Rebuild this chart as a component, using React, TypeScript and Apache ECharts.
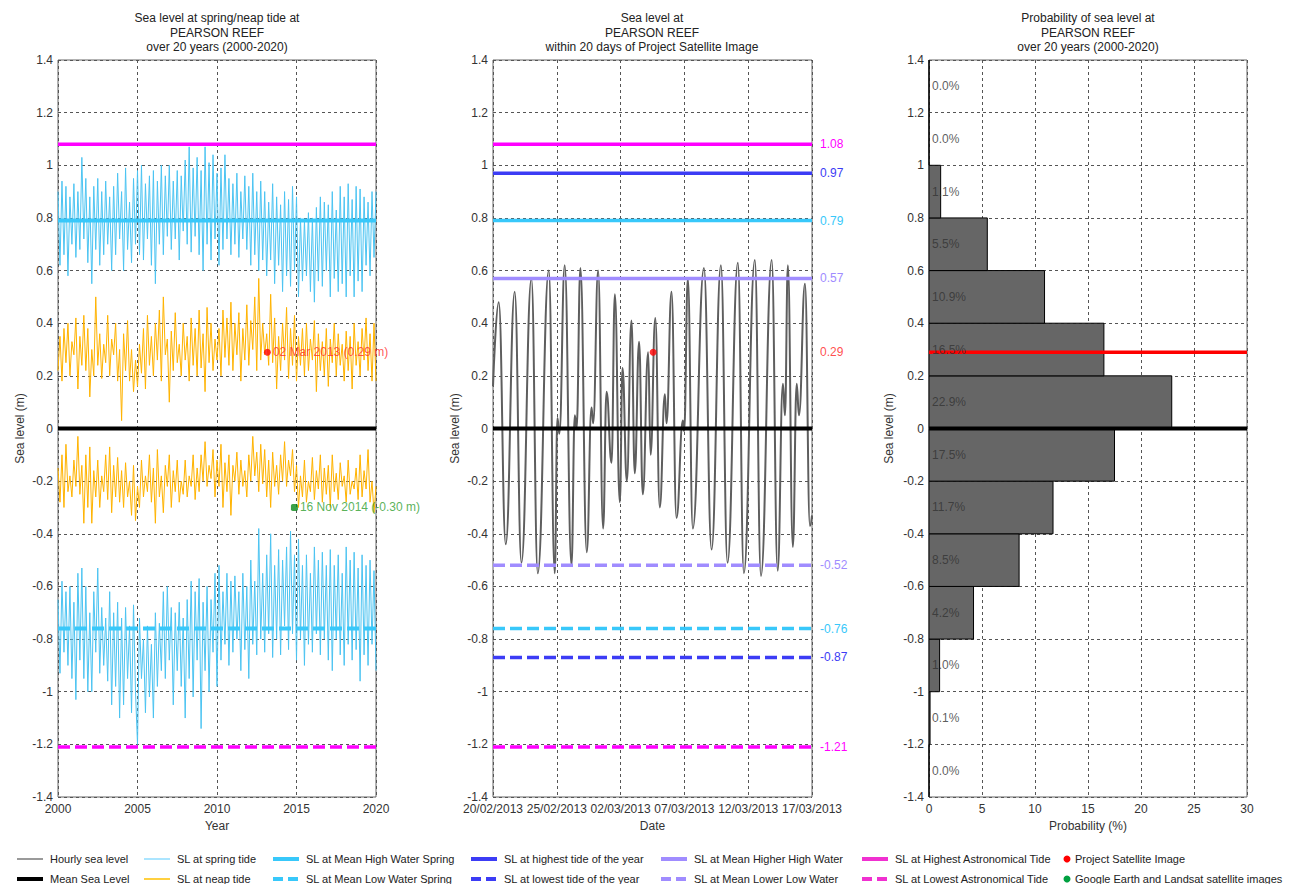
import React, { useEffect, useRef } from 'react';
import * as echarts from 'echarts';

const FONT = "'Liberation Sans', Arial, Helvetica, sans-serif";

// ---------- Left panel: spring / neap tide levels, 2000-2020 (8 samples per year) ----------
const YEAR_START = 2000;
const YEAR_STEP = 0.125;
const springHigh = [
  0.90, 0.62, 0.94, 0.66, 0.92, 0.58, 0.88, 0.70,
  0.93, 0.65, 0.90, 0.68, 1.03, 0.72, 0.95, 0.63,
  0.88, 0.55, 0.92, 0.68, 0.95, 0.62, 0.90, 0.66,
  0.94, 0.70, 0.88, 0.60, 0.92, 0.66, 0.97, 0.72,
  0.90, 0.60, 0.99, 0.68, 0.86, 0.63, 0.95, 0.70,
  0.98, 0.66, 1.00, 0.64, 0.93, 0.72, 0.96, 0.62,
  0.98, 0.55, 0.94, 0.70, 1.00, 0.66, 0.96, 0.73,
  1.00, 0.68, 0.94, 0.72, 0.98, 0.64, 0.96, 0.75,
  1.02, 0.70, 1.07, 0.67, 0.99, 0.73, 1.03, 0.66,
  0.98, 0.60, 1.07, 0.70, 1.01, 0.64, 1.04, 0.72,
  0.97, 0.62, 0.99, 0.68, 1.04, 0.72, 0.95, 0.66,
  0.93, 0.70, 0.97, 0.65, 0.90, 0.72, 0.96, 0.68,
  0.92, 0.62, 0.97, 0.66, 0.90, 0.60, 0.94, 0.64,
  0.90, 0.58, 0.86, 0.64, 0.93, 0.55, 0.88, 0.62,
  0.85, 0.52, 0.90, 0.58, 0.87, 0.54, 0.92, 0.60,
  0.88, 0.50, 0.80, 0.56, 0.79, 0.58, 0.82, 0.52,
  0.80, 0.48, 0.84, 0.56, 0.88, 0.54, 0.86, 0.60,
  0.85, 0.50, 0.90, 0.57, 0.83, 0.52, 0.92, 0.55,
  0.88, 0.50, 0.93, 0.58, 0.87, 0.50, 0.92, 0.56,
  0.91, 0.52, 0.88, 0.62, 0.86, 0.58, 0.90, 0.65,
  0.90,
];
const neapHigh = [
  0.22, 0.35, 0.18, 0.38, 0.25, 0.40, 0.20, 0.33,
  0.28, 0.42, 0.15, 0.35, 0.24, 0.43, 0.22, 0.38,
  0.12, 0.30, 0.20, 0.50, 0.24, 0.36, 0.19, 0.32,
  0.25, 0.43, 0.20, 0.34, 0.28, 0.40, 0.18, 0.30,
  0.03, 0.36, 0.22, 0.41, 0.18, 0.30, 0.14, 0.26,
  0.16, 0.32, 0.21, 0.38, 0.15, 0.43, 0.24, 0.35,
  0.20, 0.40, 0.26, 0.45, 0.18, 0.50, 0.28, 0.34,
  0.10, 0.37, 0.22, 0.44, 0.25, 0.32, 0.20, 0.40,
  0.26, 0.35, 0.18, 0.42, 0.24, 0.38, 0.20, 0.45,
  0.23, 0.36, 0.14, 0.46, 0.25, 0.40, 0.22, 0.34,
  0.26, 0.38, 0.20, 0.45, 0.27, 0.42, 0.24, 0.48,
  0.22, 0.40, 0.28, 0.44, 0.18, 0.38, 0.26, 0.47,
  0.24, 0.41, 0.30, 0.50, 0.22, 0.57, 0.26, 0.40,
  0.28, 0.36, 0.24, 0.51, 0.25, 0.42, 0.15, 0.35,
  0.22, 0.40, 0.26, 0.46, 0.19, 0.38, 0.24, 0.43,
  0.18, 0.35, 0.24, 0.38, 0.20, 0.40, 0.22, 0.34,
  0.26, 0.41, 0.14, 0.36, 0.22, 0.33, 0.20, 0.38,
  0.16, 0.34, 0.25, 0.40, 0.20, 0.36, 0.24, 0.32,
  0.18, 0.37, 0.22, 0.35, 0.15, 0.40, 0.24, 0.33,
  0.20, 0.38, 0.26, 0.42, 0.22, 0.36, 0.18, 0.40,
  0.18,
];
const neapLow = [
  -0.15, -0.28, -0.10, -0.30, -0.06, -0.24, -0.18, -0.26,
  -0.12, -0.22, -0.03, -0.25, -0.14, -0.36, -0.10, -0.30,
  -0.07, -0.36, -0.16, -0.26, -0.12, -0.30, -0.18, -0.24,
  -0.10, -0.27, -0.07, -0.32, -0.14, -0.26, -0.11, -0.28,
  -0.16, -0.30, -0.13, -0.26, -0.20, -0.33, -0.14, -0.35,
  -0.22, -0.30, -0.12, -0.26, -0.18, -0.24, -0.10, -0.28,
  -0.15, -0.36, -0.08, -0.26, -0.18, -0.32, -0.14, -0.22,
  -0.10, -0.30, -0.16, -0.24, -0.12, -0.28, -0.20, -0.25,
  -0.12, -0.26, -0.18, -0.22, -0.10, -0.27, -0.15, -0.24,
  -0.10, -0.20, -0.05, -0.22, -0.14, -0.19, -0.08, -0.26,
  -0.12, -0.22, -0.06, -0.30, -0.13, -0.24, -0.10, -0.33,
  -0.14, -0.20, -0.09, -0.25, -0.12, -0.22, -0.16, -0.26,
  -0.10, -0.20, -0.03, -0.18, -0.09, -0.24, -0.06, -0.21,
  -0.08, -0.26, -0.12, -0.30, -0.09, -0.22, -0.14, -0.25,
  -0.10, -0.20, -0.05, -0.22, -0.12, -0.18, -0.08, -0.24,
  -0.14, -0.30, -0.18, -0.26, -0.12, -0.28, -0.20, -0.24,
  -0.11, -0.27, -0.16, -0.23, -0.10, -0.28, -0.15, -0.25,
  -0.14, -0.30, -0.10, -0.24, -0.17, -0.27, -0.13, -0.22,
  -0.18, -0.28, -0.12, -0.25, -0.20, -0.23, -0.15, -0.27,
  -0.10, -0.26, -0.16, -0.23, -0.08, -0.28, -0.20, -0.32,
  -0.22,
];
const springLow = [
  -0.65, -0.93, -0.58, -0.85, -0.62, -0.90, -0.60, -0.95,
  -0.66, -1.03, -0.55, -0.88, -0.53, -0.95, -0.60, -1.00,
  -0.70, -1.00, -0.62, -0.85, -0.53, -0.93, -0.68, -0.90,
  -0.72, -0.96, -0.62, -1.05, -0.70, -0.98, -0.66, -1.10,
  -0.72, -1.05, -0.68, -0.95, -0.75, -1.08, -0.67, -1.00,
  -1.20, -0.72, -0.95, -0.80, -1.08, -0.75, -1.02, -0.82,
  -1.10, -0.70, -0.98, -0.74, -0.92, -0.62, -0.95, -0.60,
  -0.88, -0.68, -1.05, -0.70, -0.92, -0.66, -0.98, -0.72,
  -1.10, -0.65, -0.95, -0.58, -1.02, -0.62, -0.88, -0.57,
  -1.14, -0.66, -0.92, -0.60, -1.00, -0.65, -0.85, -0.55,
  -0.98, -0.52, -0.88, -0.62, -0.82, -0.55, -0.90, -0.58,
  -0.85, -0.56, -0.80, -0.62, -0.92, -0.55, -0.84, -0.60,
  -0.95, -0.50, -0.82, -0.58, -0.86, -0.38, -0.80, -0.55,
  -0.85, -0.48, -0.78, -0.40, -0.87, -0.52, -0.80, -0.46,
  -0.86, -0.50, -0.75, -0.45, -0.84, -0.39, -0.78, -0.48,
  -0.88, -0.42, -0.80, -0.52, -0.90, -0.48, -0.82, -0.55,
  -0.85, -0.45, -0.78, -0.50, -0.86, -0.47, -0.80, -0.52,
  -0.88, -0.46, -0.92, -0.52, -0.80, -0.48, -0.86, -0.55,
  -0.90, -0.45, -0.82, -0.50, -0.88, -0.47, -0.84, -0.53,
  -0.96, -0.48, -0.86, -0.52, -0.90, -0.50, -0.82, -0.54,
  -0.92,
];

// ---------- Middle panel: hourly sea level around the image date (days after 20/02/2013) ----------
const hourDays = [
  0, 0.45, 1.0, 1.7, 2.23, 3.01, 3.51, 4.37, 4.84, 5.05,
  5.2, 5.62, 6.15, 6.41, 6.55, 6.85, 7.35, 7.72, 7.85, 8.24,
  8.63, 8.9, 9.29, 9.55, 9.94, 10.15, 10.49, 10.85, 11.11, 11.45,
  11.74, 12.16, 12.35, 12.72, 13.07, 13.47, 13.6, 13.99, 14.38, 14.88,
  14.98, 15.27, 15.66, 16.53, 17.13, 17.86, 18.38, 19.19, 19.66, 20.52,
  21.0, 21.84, 22.31, 22.72, 22.88, 23.11, 23.5, 23.8, 23.98, 24.45,
  24.84, 25,
];
const hourLevels = [
  0.16, 0.48, -0.44, 0.52, -0.51, 0.57, -0.55, 0.60, -0.55, 0.04,
  -0.02, 0.62, -0.52, 0.05, 0.0, 0.61, -0.47, 0.08, 0.02, 0.60,
  -0.38, 0.14, -0.13, 0.51, -0.28, 0.23, -0.20, 0.41, -0.17, 0.33,
  -0.25, 0.29, -0.10, 0.42, -0.30, 0.13, 0.02, 0.52, -0.34, 0.03,
  -0.01, 0.57, -0.38, 0.61, -0.46, 0.62, -0.51, 0.63, -0.55, 0.64,
  -0.56, 0.64, -0.54, 0.17, 0.05, 0.62, -0.45, 0.17, 0.05, 0.55,
  -0.37, -0.33,
];
const dateLabels = ['20/02/2013', '25/02/2013', '02/03/2013', '07/03/2013', '12/03/2013', '17/03/2013'];
const DAY_SPAN = 25;

// ---------- Tidal planes ----------
const HAT = 1.08;
const HTY = 0.97;
const MHWS = 0.79;
const MHHW = 0.57;
const MSL = 0;
const MLLW = -0.52;
const MLWS = -0.76;
const LTY = -0.87;
const LAT = -1.21;

// ---------- Satellite images ----------
const satYear = 2013.17;
const satDay = 12.55;
const satLevel = 0.29;
const satLabel = '02 Mar 2013 (0.29 m)';
const googleYear = 2014.87;
const googleLevel = -0.3;
const googleLabel = '16 Nov 2014 (-0.30 m)';

// ---------- Right panel: probability histogram ----------
const binLower = [-1.4, -1.2, -1.0, -0.8, -0.6, -0.4, -0.2, 0.0, 0.2, 0.4, 0.6, 0.8, 1.0, 1.2];
const binWidth = 0.2;
const probs = [0.0, 0.1, 1.0, 4.2, 8.5, 11.7, 17.5, 22.9, 16.5, 10.9, 5.5, 1.1, 0.0, 0.0];

// ---------- Colours ----------
const C_SPRING = '#4cc4f2';
const C_NEAP = '#ffb300';
const C_MHW = '#38c8fa';
const C_TIDEYEAR = '#3c3cf5';
const C_MHHW = '#a08cff';
const C_HAT = '#ff00ff';
const C_HOURLY = '#5e5e5e';

const gridLine = { show: true, lineStyle: { color: '#555', type: [3, 3] as any, width: 1 } };

function yAxisFor(gridIndex: number, nameGap: number) {
  return {
    type: 'value',
    gridIndex,
    min: -1.4,
    max: 1.4,
    interval: 0.2,
    name: 'Sea level (m)',
    nameLocation: 'middle',
    nameGap,
    nameTextStyle: { fontSize: 12, color: '#333', fontFamily: FONT },
    axisLine: { show: false },
    axisTick: { show: false },
    axisLabel: {
      fontSize: 12,
      lineHeight: 12,
      color: '#333',
      margin: 5,
      fontFamily: FONT,
      formatter: (v: number) => String(Number(v.toFixed(1))),
    },
    splitLine: gridLine,
  };
}

function xAxisFor(gridIndex: number, min: number, max: number, name: string, formatter: (v: number) => string) {
  return {
    type: 'value', gridIndex, min, max, interval: 5,
    name, nameLocation: 'middle', nameGap: 20,
    nameTextStyle: { fontSize: 12, color: '#333' },
    axisLine: { show: false }, axisTick: { show: false },
    axisLabel: { fontSize: 12, lineHeight: 12, color: '#333', margin: 6, formatter },
    splitLine: gridLine,
  };
}

function hline(xi: number, x0: number, x1: number, y: number, color: string, dashed: boolean, width: number, endLabel?: string, z = 4) {
  const s: any = {
    type: 'line',
    xAxisIndex: xi,
    yAxisIndex: xi,
    data: [[x0, y], [x1, y]],
    symbol: 'none',
    silent: true,
    z,
    lineStyle: { color, width, type: dashed ? [12, 5] : 'solid' },
  };
  if (endLabel) {
    s.endLabel = { show: true, formatter: endLabel, color, fontSize: 12, fontFamily: FONT, distance: 8 };
  }
  return s;
}

function toYearSeries(arr: number[]) {
  return arr.map((v, i) => [YEAR_START + i * YEAR_STEP, v]);
}

function legendItems() {
  const rows = [859, 879];
  const textX = [50, 177, 306, 504, 694, 895, 1075];
  const items: any[] = [];
  const row1 = [
    { t: 'Hourly sea level', c: '#9a9a9a', w: 2, d: null },
    { t: 'SL at spring tide', c: '#8fdcff', w: 1.5, d: null },
    { t: 'SL at Mean High Water Spring', c: C_MHW, w: 4, d: null },
    { t: 'SL at highest tide of the year', c: C_TIDEYEAR, w: 4, d: null },
    { t: 'SL at Mean Higher High Water', c: C_MHHW, w: 4, d: null },
    { t: 'SL at Highest Astronomical Tide', c: '#f030d0', w: 4, d: null },
    { t: 'Project Satellite Image', c: '#ff0000', w: 0, d: 'dot' },
  ];
  const row2 = [
    { t: 'Mean Sea Level', c: '#000', w: 4, d: null },
    { t: 'SL at neap tide', c: '#ffc000', w: 1.5, d: null },
    { t: 'SL at Mean Low Water Spring', c: C_MHW, w: 4, d: 'dash' },
    { t: 'SL at lowest tide of the year', c: C_TIDEYEAR, w: 4, d: 'dash' },
    { t: 'SL at Mean Lower Low Water', c: C_MHHW, w: 4, d: 'dash' },
    { t: 'SL at Lowest Astronomical Tide', c: '#f030d0', w: 4, d: 'dash' },
    { t: 'Google Earth and Landsat satellite images', c: '#00a040', w: 0, d: 'dot' },
  ];
  [row1, row2].forEach((row, ri) => {
    const y = rows[ri];
    row.forEach((it, i) => {
      const tx = textX[i];
      if (it.d === 'dot') {
        items.push({ type: 'circle', shape: { cx: tx - 8, cy: y, r: 3.5 }, style: { fill: it.c } });
      } else {
        items.push({
          type: 'line',
          shape: { x1: tx - 33, y1: y, x2: tx - 7, y2: y },
          style: { stroke: it.c, lineWidth: it.w, lineDash: it.d === 'dash' ? [10, 5] : null },
        });
      }
      items.push({
        type: 'text',
        x: tx,
        y,
        style: { text: it.t, fontSize: 11, fontFamily: FONT, fill: '#222', verticalAlign: 'middle', align: 'left' },
      });
    });
  });
  return items;
}

function titleText(x: number, text: string) {
  return {
    type: 'text',
    x,
    y: 11,
    style: { text, fontSize: 12, fontFamily: FONT, fill: '#222', align: 'center', verticalAlign: 'top', lineHeight: 14.5 },
  };
}

export default function App() {
  const ref = useRef<HTMLDivElement>(null);
  useEffect(() => {
    if (!ref.current) return;
    const chart = echarts.init(ref.current, undefined, { renderer: 'svg' });

    const option: any = {
      animation: false,
      backgroundColor: '#fff',
      textStyle: { fontFamily: FONT },
      grid: [
        { left: 58, top: 60, width: 318, height: 737, show: true, borderColor: '#666', borderWidth: 1, backgroundColor: '#fff' },
        { left: 493, top: 60, width: 319, height: 737, show: true, borderColor: '#666', borderWidth: 1, backgroundColor: '#fff' },
        { left: 929, top: 60, width: 318, height: 737, show: true, borderColor: '#666', borderWidth: 1, backgroundColor: '#fff' },
      ],
      xAxis: [
        xAxisFor(0, 2000, 2020, 'Year', (v: number) => String(v)),
        xAxisFor(1, 0, DAY_SPAN, 'Date', (v: number) => dateLabels[Math.round(v / 5)]),
        xAxisFor(2, 0, 30, 'Probability (%)', (v: number) => String(v)),
      ],
      yAxis: [yAxisFor(0, 32), yAxisFor(1, 32), yAxisFor(2, 34)],
      graphic: [
        titleText(217, 'Sea level at spring/neap tide at\nPEARSON REEF\nover 20 years (2000-2020)'),
        titleText(652, 'Sea level at\nPEARSON REEF\nwithin 20 days of Project Satellite Image'),
        titleText(1088, 'Probability of sea level at\nPEARSON REEF\nover 20 years (2000-2020)'),
        ...legendItems(),
      ],
      series: [
        // ----- left panel -----
        { type: 'line', xAxisIndex: 0, yAxisIndex: 0, data: toYearSeries(springHigh), symbol: 'none', lineStyle: { color: C_SPRING, width: 1 }, z: 2, silent: true },
        { type: 'line', xAxisIndex: 0, yAxisIndex: 0, data: toYearSeries(springLow), symbol: 'none', lineStyle: { color: C_SPRING, width: 1 }, z: 2, silent: true },
        { type: 'line', xAxisIndex: 0, yAxisIndex: 0, data: toYearSeries(neapHigh), symbol: 'none', lineStyle: { color: C_NEAP, width: 1 }, z: 2, silent: true },
        { type: 'line', xAxisIndex: 0, yAxisIndex: 0, data: toYearSeries(neapLow), symbol: 'none', lineStyle: { color: C_NEAP, width: 1 }, z: 2, silent: true },
        hline(0, 2000, 2020, HAT, C_HAT, false, 3.5),
        hline(0, 2000, 2020, MHWS, C_MHW, false, 4),
        hline(0, 2000, 2020, MLWS, C_MHW, true, 4),
        hline(0, 2000, 2020, LAT, C_HAT, true, 3.5),
        hline(0, 2000, 2020, MSL, '#000', false, 4, undefined, 5),
        {
          type: 'scatter', xAxisIndex: 0, yAxisIndex: 0, data: [[satYear, satLevel]], symbol: 'circle', symbolSize: 7, z: 6,
          itemStyle: { color: '#ff0000' },
          label: { show: true, position: 'right', distance: 2, formatter: satLabel, color: '#ff2a2a', fontSize: 12 },
        },
        {
          type: 'scatter', xAxisIndex: 0, yAxisIndex: 0, data: [[googleYear, googleLevel]], symbol: 'roundRect', symbolSize: 7, z: 6,
          itemStyle: { color: '#0a8a1a' },
          label: { show: true, position: 'right', distance: 2, formatter: googleLabel, color: '#2e9e2e', fontSize: 12 },
        },
        // ----- middle panel -----
        {
          type: 'line', xAxisIndex: 1, yAxisIndex: 1, data: hourDays.map((d, i) => [d, hourLevels[i]]),
          symbol: 'none', smooth: 0.45, smoothMonotone: 'x',
          lineStyle: { color: C_HOURLY, width: 2 }, z: 2, silent: true,
        },
        hline(1, 0, DAY_SPAN, HAT, C_HAT, false, 3.5, HAT.toFixed(2)),
        hline(1, 0, DAY_SPAN, HTY, C_TIDEYEAR, false, 3.5, HTY.toFixed(2)),
        hline(1, 0, DAY_SPAN, MHWS, C_MHW, false, 3.5, MHWS.toFixed(2)),
        hline(1, 0, DAY_SPAN, MHHW, C_MHHW, false, 3.5, MHHW.toFixed(2)),
        hline(1, 0, DAY_SPAN, MLLW, C_MHHW, true, 3.5, MLLW.toFixed(2)),
        hline(1, 0, DAY_SPAN, MLWS, C_MHW, true, 3.5, MLWS.toFixed(2)),
        hline(1, 0, DAY_SPAN, LTY, C_TIDEYEAR, true, 3.5, LTY.toFixed(2)),
        hline(1, 0, DAY_SPAN, LAT, C_HAT, true, 3.5, LAT.toFixed(2)),
        hline(1, 0, DAY_SPAN, MSL, '#000', false, 4, undefined, 5),
        {
          type: 'scatter', xAxisIndex: 1, yAxisIndex: 1, data: [[satDay, satLevel]], symbol: 'circle', symbolSize: 7, z: 6,
          itemStyle: { color: '#ff0000' },
        },
        {
          type: 'scatter', xAxisIndex: 1, yAxisIndex: 1, data: [[DAY_SPAN, satLevel]], symbolSize: 0, z: 6,
          itemStyle: { color: 'transparent' },
          label: { show: true, position: 'right', distance: 8, formatter: satLevel.toFixed(2), color: '#ff2020', fontSize: 12 },
        },
        // ----- right panel -----
        {
          type: 'custom', xAxisIndex: 2, yAxisIndex: 2, z: 3, silent: true,
          data: binLower.map((lo, i) => [lo, lo + binWidth, probs[i]]),
          encode: { x: 2, y: [0, 1] },
          renderItem: (params: any, api: any) => {
            const lo = api.value(0);
            const hi = api.value(1);
            const p = api.value(2);
            const a = api.coord([0, hi]);
            const b = api.coord([p, lo]);
            return {
              type: 'rect',
              shape: { x: a[0], y: a[1], width: b[0] - a[0], height: b[1] - a[1] },
              style: { fill: '#666666', stroke: '#000', lineWidth: 1 },
            };
          },
        },
        hline(2, 0, 30, MSL, '#000', false, 4, undefined, 5),
        hline(2, 0, 30, satLevel, '#ff0000', false, 3.5, undefined, 5),
        {
          type: 'scatter', xAxisIndex: 2, yAxisIndex: 2, z: 7, symbolSize: 0, silent: true,
          itemStyle: { color: 'transparent' },
          data: binLower.map((lo) => [0, lo + binWidth / 2]),
          label: {
            show: true, position: 'right', distance: 3, color: '#333', fontSize: 12,
            formatter: (p: any) => probs[p.dataIndex].toFixed(1) + '%',
          },
        },
      ],
    };

    chart.setOption(option);
    return () => chart.dispose();
  }, []);

  return <div ref={ref} style={{ position: 'fixed', left: 0, top: 0, width: 1294, height: 884, background: '#fff' }} />;
}
